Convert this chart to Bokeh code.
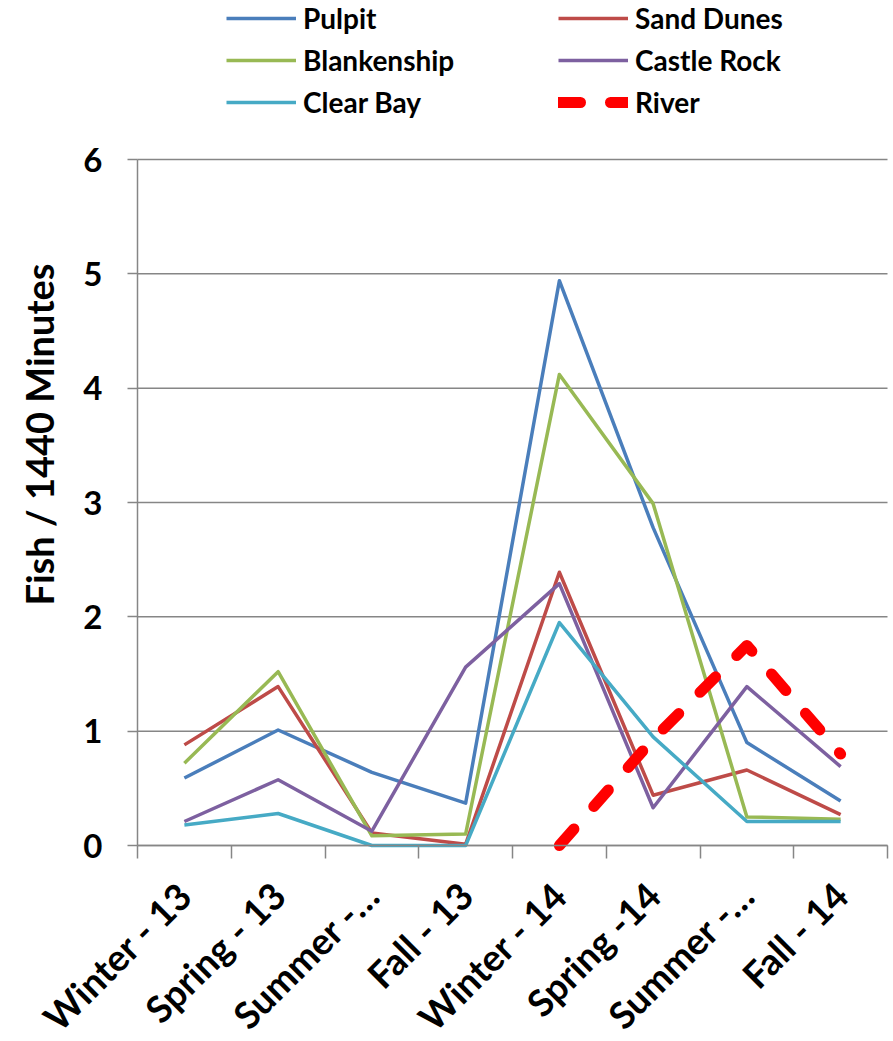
import math
from bokeh.plotting import figure
from bokeh.models import Range1d, FixedTicker, Legend, LegendItem, Label
from bokeh.embed import file_html
from bokeh.resources import INLINE

nan = float("nan")

categories = ["Winter - 13", "Spring - 13", "Summer -\u2026", "Fall - 13",
              "Winter - 14", "Spring -14", "Summer -\u2026", "Fall - 14"]
pulpit = [0.59, 1.01, 0.64, 0.37, 4.94, 2.78, 0.90, 0.39]
sand_dunes = [0.88, 1.39, 0.11, 0.01, 2.39, 0.44, 0.66, 0.27]
blankenship = [0.72, 1.52, 0.085, 0.10, 4.12, 2.99, 0.25, 0.23]
castle_rock = [0.21, 0.575, 0.125, 1.56, 2.29, 0.33, 1.39, 0.69]
clear_bay = [0.18, 0.28, 0.0, 0.0, 1.95, 0.95, 0.21, 0.21]
river = [nan, nan, nan, nan, 0.0, 0.93, 1.75, 0.80]
y_ticks = [0, 1, 2, 3, 4, 5, 6]
y_title = "Fish / 1440 Minutes"

FONT = "Lato"
GRAY = "#868686"

# layout (pixels). The frame covers the whole canvas; both axes are pinned
# at 0 inside it so that nothing is clipped.
W, H = 891, 1039
AXIS_X0, AXIS_X1 = 137, 887      # left / right end of the category axis
ZERO_PX, SIX_PX = 845, 159       # y pixel of value 0 and value 6
n = len(categories)
ux = (AXIS_X1 - AXIS_X0) / n
uy = (ZERO_PX - SIX_PX) / 6.0
x_range = Range1d(-AXIS_X0 / ux, n + (W - AXIS_X1) / ux)
y_range = Range1d(-(H - ZERO_PX) / uy, 6 + SIX_PX / uy)

xs = [i + 0.5 for i in range(n)]

p = figure(width=W, height=H, output_backend="svg", toolbar_location=None,
           x_range=x_range, y_range=y_range,
           min_border_left=0, min_border_right=0, min_border_top=0,
           min_border_bottom=0)
p.outline_line_color = None
p.background_fill_color = "white"
p.xgrid.visible = False
p.ygrid.visible = False

# horizontal gridlines, limited to the plot area
p.segment(x0=[0] * len(y_ticks), x1=[n] * len(y_ticks), y0=y_ticks, y1=y_ticks,
          line_color=GRAY, line_width=1.5)

series = [
    ("Pulpit", pulpit, "#4A7EBB", 3.5, "solid"),
    ("Sand Dunes", sand_dunes, "#BE4B48", 3.5, "solid"),
    ("Blankenship", blankenship, "#98B954", 3.5, "solid"),
    ("Castle Rock", castle_rock, "#7D60A0", 3.5, "solid"),
    ("Clear Bay", clear_bay, "#46AAC5", 3.5, "solid"),
    ("River", river, "#FF0000", 11, "22 30"),
]
items = []
for name, vals, color, w, dash in series:
    r = p.line(xs, vals, line_color=color, line_width=w, line_dash=dash,
               line_join="round", line_cap="round" if dash != "solid" else "butt")
    items.append(LegendItem(label=name, renderers=[r]))

# x axis at y = 0
xa = p.xaxis[0]
xa.fixed_location = 0
xa.bounds = (0, n)
xa.ticker = FixedTicker(ticks=xs, minor_ticks=list(range(n + 1)))
xa.major_label_overrides = {x: c for x, c in zip(xs, categories)}
xa.major_tick_line_color = None
xa.major_tick_out = 12
xa.minor_tick_out = 13
xa.minor_tick_in = 0
xa.minor_tick_line_color = GRAY
xa.minor_tick_line_width = 1.5
xa.axis_line_color = GRAY
xa.axis_line_width = 1.5
xa.major_label_orientation = math.pi / 4
xa.major_label_standoff = 30
xa.major_label_text_font = FONT
xa.major_label_text_font_style = "bold"
xa.major_label_text_font_size = "37px"
xa.major_label_text_color = "black"

# y axis at x = 0
ya = p.yaxis[0]
ya.fixed_location = 0
ya.bounds = (0, 6)
ya.ticker = FixedTicker(ticks=y_ticks, minor_ticks=[])
ya.major_tick_out = 10
ya.major_tick_in = 0
ya.major_tick_line_color = GRAY
ya.major_tick_line_width = 1.5
ya.axis_line_color = GRAY
ya.axis_line_width = 1.5
ya.major_label_standoff = 25
ya.major_label_text_font = FONT
ya.major_label_text_font_style = "bold"
ya.major_label_text_font_size = "33px"
ya.major_label_text_color = "black"

# y-axis title
p.add_layout(Label(x=38, y=H - 605, x_units="screen", y_units="screen",
                   text=y_title, angle=math.pi / 2, text_align="left",
                   text_baseline="alphabetic", text_font=FONT,
                   text_font_style="bold", text_font_size="38px",
                   text_color="black"))

legend = Legend(items=items, orientation="horizontal", ncols=2, nrows=3,
                location=(226, 920), glyph_width=70, glyph_height=22,
                label_height=22, label_width=247, label_standoff=7, spacing=8,
                padding=0, margin=0, border_line_color=None,
                background_fill_alpha=0, label_text_font=FONT,
                label_text_font_style="bold", label_text_font_size="28px",
                label_text_color="black")
p.add_layout(legend, "center")

open("out.html", "w").write(file_html(p, INLINE))
